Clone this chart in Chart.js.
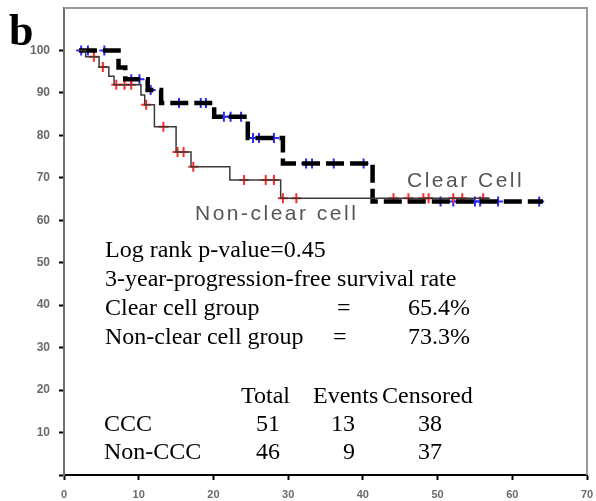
<!DOCTYPE html>
<html>
<head>
<meta charset="utf-8">
<script src="https://cdn.jsdelivr.net/npm/chart.js@4"></script>
<style>
  body { margin: 0; background: #fff; }
  #wrap { width: 596px; height: 501px; }
</style>
</head>
<body>
<div id="wrap"><canvas id="km" width="596" height="501"></canvas></div>
<script>
// Kaplan-Meier curves (months, % progression-free)
const ccTimes = [2, 7.3, 8.2, 11.2, 13, 20.1, 24.6, 29.3, 41.3, 64.1];
const ccSurv  = [100, 96, 93.2, 90.7, 87.6, 84.4, 79.4, 73.4, 64.4, 64.4];
const ccCensorTimes = [2.3, 3.2, 5.4, 9, 10.1, 11.6, 15.4, 18.3, 19, 21.4, 22.3, 23.7, 25.3, 26.1, 28.1, 32.4, 33.2, 36.1, 40.1, 50.4, 52.1, 55, 55.7, 58.1, 63.6];
const ccCensorSurv  = [100, 100, 100, 93.2, 93.2, 90.7, 87.6, 87.6, 87.6, 84.4, 84.4, 84.4, 79.4, 79.4, 79.4, 73.4, 73.4, 73.4, 73.4, 64.4, 64.4, 64.4, 64.4, 64.4, 64.4];

const nccTimes = [2, 2.9, 4.7, 6.0, 6.7, 10.3, 10.8, 12.1, 15.0, 17.0, 22.2, 29.0, 57];
const nccSurv  = [100, 98.5, 96.1, 93.9, 91.9, 89.5, 87.2, 82.0, 76.1, 72.6, 69.5, 65.2, 65.2];
const nccCensorTimes = [4.0, 5.2, 7, 8.1, 9.0, 11.0, 13.3, 15.2, 16.0, 17.3, 24.1, 27, 28.1, 29.3, 31.1, 44.1, 46.1, 48.1, 48.8, 52.1, 53.3, 56.1];
const nccCensorSurv  = [98.5, 96.1, 91.9, 91.9, 91.9, 87.2, 82.0, 76.1, 76.1, 72.6, 69.5, 69.5, 69.5, 65.2, 65.2, 65.2, 65.2, 65.2, 65.2, 65.2, 65.2, 65.2];

const xTicks = [0, 10, 20, 30, 40, 50, 60, 70];
const yTicks = [10, 20, 30, 40, 50, 60, 70, 80, 90, 100];

function pts(xs, ys) {
    return xs.map((x, i) => ({ x: x, y: ys[i] }));
}

// gray frame on top/right and all the text written over the plot
const overlay = {
    id: 'overlay',
    beforeDatasetsDraw(chart) {
        const c = chart.ctx, a = chart.chartArea;
        c.save();
        c.strokeStyle = '#9a9a9a';
        c.lineWidth = 2;
        c.beginPath();
        c.moveTo(a.left, a.top);
        c.lineTo(a.right, a.top);
        c.lineTo(a.right, a.bottom);
        c.stroke();
        c.restore();
    },
    afterDraw(chart) {
        const c = chart.ctx;
        c.save();
        c.fillStyle = '#000';
        c.font = 'bold 44px "Liberation Serif", "Times New Roman", serif';
        c.textBaseline = 'alphabetic';
        c.fillText('b', 9, 45);

        c.fillStyle = '#555';
        c.font = '21px "Liberation Sans", Arial, sans-serif';
        c.letterSpacing = '2.5px';
        c.fillText('Clear Cell', 407, 187);
        c.fillText('Non-clear cell', 195, 220);
        c.letterSpacing = '0px';

        c.fillStyle = '#000';
        c.font = '24px "Liberation Serif", "Times New Roman", serif';
        c.textBaseline = 'middle';
        c.fillText('Log rank p-value=0.45', 105, 251);
        c.fillText('3-year-progression-free survival rate', 105, 280);
        c.fillText('Clear cell group', 105, 309);
        c.fillText('=', 337, 309);
        c.fillText('65.4%', 408, 309);
        c.fillText('Non-clear cell group', 105, 338);
        c.fillText('=', 333, 338);
        c.fillText('73.3%', 408, 338);

        c.fillText('Total', 241, 397);
        c.fillText('Events', 313, 397);
        c.fillText('Censored', 382, 397);
        c.fillText('CCC', 104, 425);
        c.fillText('51', 256, 425);
        c.fillText('13', 331, 425);
        c.fillText('38', 418, 425);
        c.fillText('Non-CCC', 104, 453);
        c.fillText('46', 256, 453);
        c.fillText('9', 343, 453);
        c.fillText('37', 418, 453);
        c.restore();
    }
};

new Chart(document.getElementById('km'), {
    type: 'line',
    data: {
        datasets: [
            {
                label: 'Non-clear cell',
                data: pts(nccTimes, nccSurv),
                stepped: true,
                borderColor: '#3a3a3a',
                borderWidth: 1.5,
                pointRadius: 0,
                fill: false
            },
            {
                label: 'Clear Cell',
                data: pts(ccTimes, ccSurv),
                stepped: true,
                borderColor: '#000',
                borderWidth: 4.5,
                borderDash: [18, 6],
                borderCapStyle: 'butt',
                pointRadius: 0,
                fill: false
            },
            {
                type: 'scatter',
                label: 'Non-clear censored',
                data: pts(nccCensorTimes, nccCensorSurv),
                pointStyle: 'cross',
                pointRadius: 5,
                pointBorderWidth: 2,
                borderColor: '#ff2a2a',
                backgroundColor: '#ff2a2a'
            },
            {
                type: 'scatter',
                label: 'Clear censored',
                data: pts(ccCensorTimes, ccCensorSurv),
                pointStyle: 'cross',
                pointRadius: 5,
                pointBorderWidth: 2,
                borderColor: '#2a2aff',
                backgroundColor: '#2a2aff'
            }
        ]
    },
    options: {
        responsive: false,
        animation: false,
        events: [],
        layout: { padding: { left: 0, right: 9, top: 8, bottom: 0 } },
        scales: {
            x: {
                type: 'linear',
                min: 0,
                max: 70,
                afterBuildTicks: (s) => { s.ticks = xTicks.map(v => ({ value: v })); },
                afterFit: (s) => {
                    s.height = 26;
                    s.paddingLeft = 0;
                    s.paddingRight = 0;
                },
                grid: { drawOnChartArea: false, tickLength: 5, tickWidth: 2, tickColor: '#000' },
                border: { color: '#000', width: 2 },
                ticks: {
                    color: '#6a6a6a',
                    padding: 8,
                    font: { family: '"Liberation Sans", Arial, sans-serif', size: 11, weight: 'bold' }
                }
            },
            y: {
                min: 0,
                max: 110,
                afterBuildTicks: (s) => { s.ticks = [0].concat(yTicks).map(v => ({ value: v })); },
                afterFit: (s) => {
                    s.width = 64;
                    s.paddingTop = 0;
                    s.paddingBottom = 0;
                },
                grid: { drawOnChartArea: false, tickLength: 5, tickWidth: 2, tickColor: '#000' },
                border: { color: '#6e6e6e', width: 2 },
                ticks: {
                    color: '#6a6a6a',
                    padding: 9,
                    callback: (v) => (v === 0 ? '' : v),
                    font: { family: '"Liberation Sans", Arial, sans-serif', size: 12, weight: 'bold' }
                }
            }
        },
        plugins: {
            legend: { display: false },
            tooltip: { enabled: false }
        }
    },
    plugins: [overlay]
});
</script>
</body>
</html>
